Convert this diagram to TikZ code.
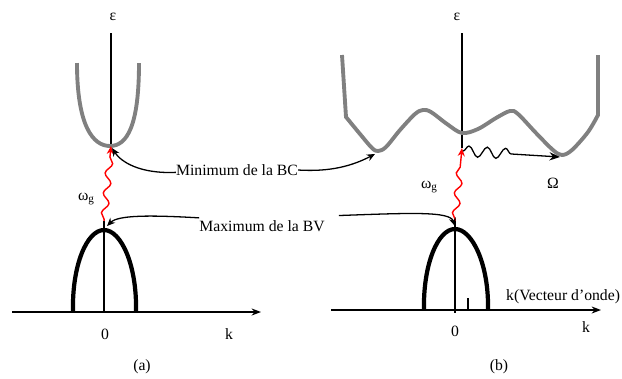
\documentclass[tikz,border=0pt]{standalone}
\usepackage{fontspec}
\setmainfont{Liberation Serif}
\usetikzlibrary{arrows.meta,decorations.pathmorphing}
\definecolor{bandgray}{RGB}{128,128,128}
\begin{document}
\begin{tikzpicture}[x=0.03cm,y=-0.03cm,
  axis/.style={line width=1.2pt},
  axisarrow/.style={axis,-{Stealth[length=8pt,width=6pt]}},
  cband/.style={line width=3.3pt,draw=bandgray},
  vband/.style={line width=3.6pt,draw=black},
  lbl/.style={font=\fontsize{13.4}{16}\selectfont,inner sep=0pt},
  conn/.style={line width=1.1pt,-{Stealth[length=7pt,width=6pt]}},
  photon/.style={red,line width=1.2pt,-{Stealth[length=7pt,width=6pt]},decorate,
    decoration={snake,segment length=0.6cm,amplitude=0.1cm,pre length=0.05cm,post length=0.3cm}},
  phonon/.style={black,line width=1.1pt,-{Stealth[length=9pt,width=7pt]},decorate,
    decoration={snake,segment length=0.55cm,amplitude=0.16cm,post length=1.25cm}},
]
\useasboundingbox (0,0) rectangle (622,378);

% ---------- panel (a) ----------
\coordinate (aAxTop) at (111,33);
\coordinate (aCBmin) at (111,146);
\coordinate (aVBtop) at (104,221);
\coordinate (aVBbase) at (104,312);
\coordinate (aKleft) at (12,312);
\coordinate (aKright) at (261,312);
\coordinate (aMinTip) at (112,148);
\coordinate (aMaxTip) at (107,226);

\draw[axis] (aAxTop) -- (aCBmin);
\draw[axis] (aVBtop) -- (aVBbase);
\draw[axisarrow] (aKleft) -- (aKright);
\draw[cband] (77,63) .. controls (77,126) and (93,146) .. (110,146)
  .. controls (127,146) and (139,126) .. (139,63);
\draw[vband] (73,311) .. controls (72,265) and (87,230) .. (104,230)
  .. controls (121,230) and (137,265) .. (136,311);
\draw[photon] (aVBtop) -- (aCBmin);

\node[lbl] (aEps) at (113,17) {ε};
\node[lbl] (aZero) at (105,334) {0};
\node[lbl] (aK) at (229,334) {k};
\node[lbl] (aCap) at (142,367) {(a)};
\node[lbl] (aOmg) at (86,199) {ω\raisebox{-0.35ex}{\fontsize{9.5}{11}\selectfont g}};

% ---------- panel (b) ----------
\coordinate (bAxTop) at (462,33);
\coordinate (bCBmin) at (462,148);
\coordinate (bVBtop) at (455,221);
\coordinate (bVBbase) at (455,313);
\coordinate (bKleft) at (331,310);
\coordinate (bKright) at (601,310);
\coordinate (bCBleft) at (375,154);
\coordinate (bCBright) at (560,157);
\coordinate (bWaveStart) at (463,151);
\coordinate (bMaxTip) at (455,226);
\coordinate (bTickTop) at (468,298);
\coordinate (bTickBot) at (468,310);

\draw[axis] (bAxTop) -- (bCBmin);
\draw[axis] (bVBtop) -- (bVBbase);
\draw[axisarrow] (bKleft) -- (bKright);
\draw[line width=0.9pt] (bTickTop) -- (bTickBot);
\draw[cband] (342,55) -- plot[smooth,tension=0.55] coordinates {
  (346,117) (360,134) (372,148) (378,151) (386,147) (400,130) (415,114) (423,110)
  (431,112) (447,124) (462,133) (478,129) (496,118) (510,111) (518,114) (536,133)
  (553,150) (562,155) (572,150) (588,132) (598,115)} -- (598,55);
\draw[vband] (424,310) .. controls (423,264) and (438,229) .. (455,229)
  .. controls (472,229) and (489,264) .. (488,310);
\draw[photon] (bVBtop) -- (bCBmin);
\draw[phonon] (bWaveStart) -- (bCBright);

\node[lbl] (bEps) at (457,17) {ε};
\node[lbl] (bZero) at (455,331) {0};
\node[lbl] (bK) at (586,327) {k};
\node[lbl] (bCap) at (499,367) {(b)};
\node[lbl] (bOmg) at (429,187) {ω\raisebox{-0.35ex}{\fontsize{9.5}{11}\selectfont g}};
\node[lbl] (bOmega) at (553,183) {Ω};
\node[lbl,anchor=west] (bKlab) at (506,297) {k(Vecteur d’onde)};

% ---------- shared labels ----------
\node[lbl] (minBC) at (237,170) {Minimum de la BC};
\node[lbl] (maxBV) at (262,226) {Maximum de la BV};

\draw[conn] ([yshift=-2pt]minBC.west) .. controls (140,174) and (121,162) .. (aMinTip);
\draw[conn] (minBC.east) .. controls (330,172) and (352,166) .. (bCBleft);
\draw[conn] ([yshift=2pt]maxBV.north west) .. controls (150,215) and (118,215) .. (aMaxTip);
\draw[conn] ([xshift=12pt,yshift=4pt]maxBV.north east) .. controls (410,213) and (450,211) .. (bMaxTip);
\end{tikzpicture}
\end{document}
